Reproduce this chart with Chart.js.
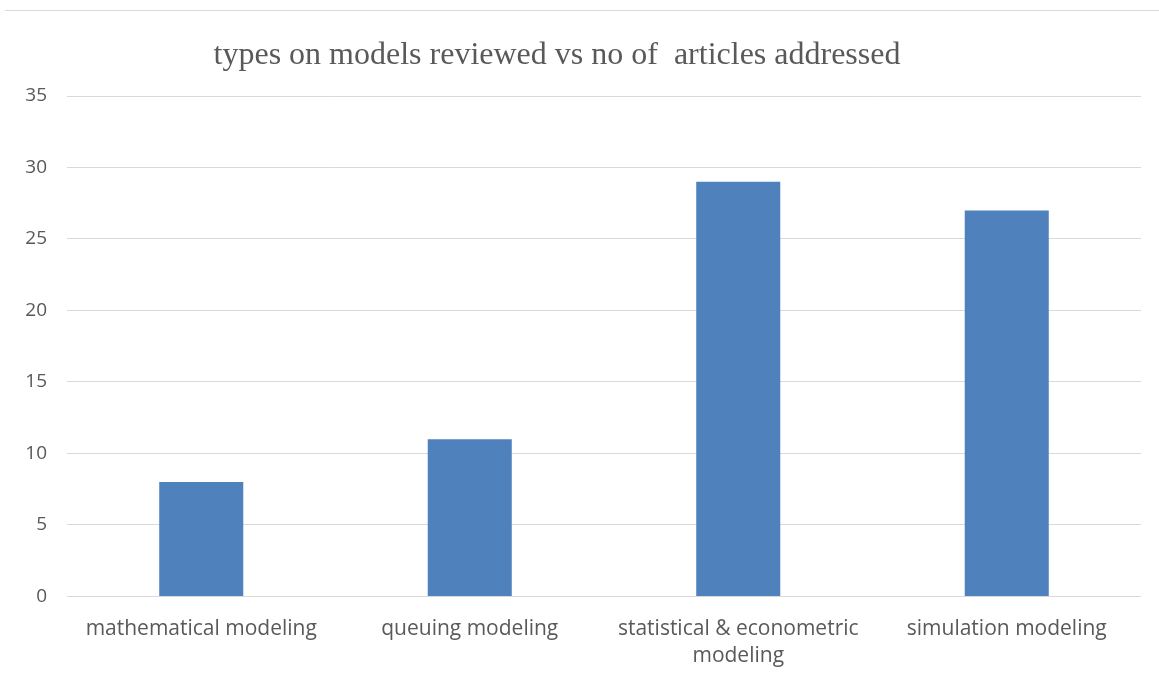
<!DOCTYPE html>
<html>
<head>
<meta charset="utf-8">
<script src="https://cdn.jsdelivr.net/npm/chart.js@4"></script>
<style>
  html, body { margin: 0; padding: 0; background: #fff; }
  #wrap { position: relative; width: 1159px; height: 682px; }
  #topline { position: absolute; left: 5px; right: 0; top: 10px; border-top: 1px solid #d9d9d9; }
</style>
</head>
<body>
<div id="wrap">
  <div id="topline"></div>
  <canvas id="chart" width="1159" height="682"></canvas>
</div>
<script>
'use strict';

const modelTypes = [
    'mathematical modeling',
    'queuing modeling',
    ['statistical & econometric', 'modeling'],
    'simulation modeling'
];
const articleCounts = [8, 11, 29, 27];
const yTicks = [0, 5, 10, 15, 20, 25, 30, 35];

const textColor = '#595959';

// shift the title a little left, the original is not centred on the canvas
const titleShift = {
    id: 'titleShift',
    afterLayout(chart) {
        chart.titleBlock.right -= 27;
    }
};

const data = {
    labels: modelTypes,
    datasets: [{
        label: 'articles',
        data: articleCounts,
        backgroundColor: '#4f81bd',
        borderWidth: 0,
        categoryPercentage: 1,
        barPercentage: 0.313
    }]
};

const config = {
    type: 'bar',
    data: data,
    plugins: [titleShift],
    options: {
        responsive: false,
        animation: false,
        layout: {
            padding: { top: 36, right: 18, bottom: -7, left: 0 }
        },
        plugins: {
            legend: { display: false },
            tooltip: { enabled: false },
            title: {
                display: true,
                text: 'types on models reviewed vs no of  articles addressed',
                color: textColor,
                font: { family: '"Liberation Serif", serif', size: 32, weight: 'normal' },
                padding: { top: 0, bottom: 21.6 }
            }
        },
        scales: {
            x: {
                grid: { display: false, drawTicks: false },
                border: { display: false },
                ticks: {
                    color: textColor,
                    padding: 19,
                    maxRotation: 0,
                    autoSkip: false,
                    font: { family: '"Open Sans", sans-serif', size: 21, lineHeight: 1.3 }
                }
            },
            y: {
                min: 0,
                max: 35,
                afterBuildTicks: scale => {
                    scale.ticks = yTicks.map(v => ({ value: v }));
                },
                afterFit: scale => { scale.width = 67; },
                grid: { color: '#d9d9d9', drawTicks: false, lineWidth: 1 },
                border: { display: false },
                ticks: {
                    color: textColor,
                    padding: 20,
                    font: { family: '"Open Sans", sans-serif', size: 19 }
                }
            }
        }
    }
};

const myChart = new Chart(document.querySelector('#chart'), config);
</script>
</body>
</html>
